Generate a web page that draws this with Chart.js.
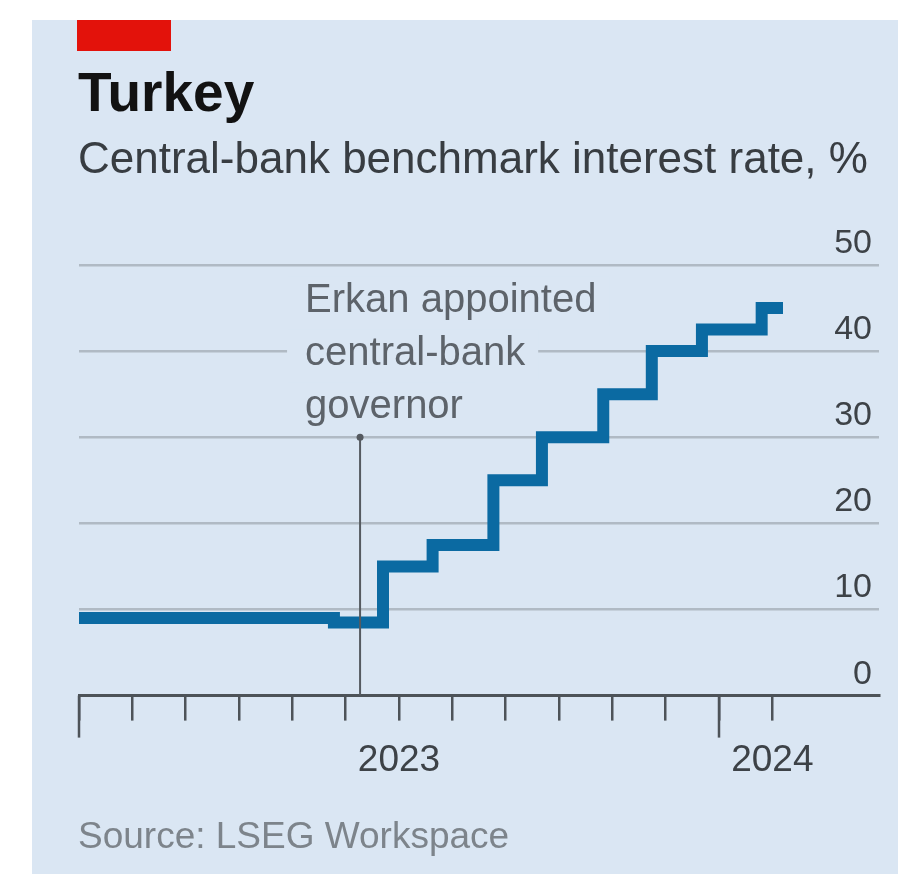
<!DOCTYPE html>
<html>
<head>
<meta charset="utf-8">
<title>Turkey - Central-bank benchmark interest rate</title>
<script src="https://cdn.jsdelivr.net/npm/chart.js@4.4.1/dist/chart.umd.min.js"></script>
<style>
    html, body { margin: 0; padding: 0; background: #ffffff; }
    canvas { display: block; }
</style>
</head>
<body>
<canvas id="rateChart" width="898" height="874"></canvas>
<script>
// months counted from January 2023 (0 = Jan 2023, 12 = Jan 2024)
const stepMonths = [0, 4.78, 5.7, 6.63, 7.77, 8.68, 9.83, 10.74, 11.68, 12.8, 13.2];
const rates = [9, 8.5, 15, 17.5, 25, 30, 35, 40, 42.5, 45, 45];

const tickMonths = [0, 1, 2, 3, 4, 5, 6, 7, 8, 9, 10, 11, 12, 13];
const yearStartMonths = [0, 12];
const yearLabelMonths = [6, 13];
const yearLabels = ['2023', '2024'];
const yTicks = [0, 10, 20, 30, 40, 50];

// Erkan's appointment (early June 2023)
const erkanMonth = 5.27;
const erkanLevel = 30;
const erkanText = ['Erkan appointed', 'central-bank', 'governor'];

const FONT = "'Liberation Sans', Arial, sans-serif";
const BG = '#dae6f3';
const AXIS = '#4d5358';

document.addEventListener('DOMContentLoaded', function() {
    const canvas = document.getElementById('rateChart');

    // panel background, red tag, title, subtitle and source line
    const frame = {
        id: 'frame',
        beforeDraw(chart) {
            const ctx = chart.ctx;
            ctx.save();
            ctx.fillStyle = '#ffffff';
            ctx.fillRect(0, 0, chart.width, chart.height);
            ctx.fillStyle = BG;
            ctx.fillRect(32, 20, chart.width - 32, chart.height - 20);
            ctx.fillStyle = '#e3120b';
            ctx.fillRect(77, 20, 94, 31);
            ctx.restore();
        },
        afterDraw(chart) {
            const ctx = chart.ctx;
            ctx.save();
            ctx.textAlign = 'left';
            ctx.textBaseline = 'alphabetic';
            ctx.fillStyle = '#121212';
            ctx.font = 'bold 55px ' + FONT;
            ctx.fillText('Turkey', 78, 111);
            ctx.fillStyle = '#383d42';
            ctx.font = '44px ' + FONT;
            ctx.fillText('Central-bank benchmark interest rate, %', 78, 173);
            ctx.fillStyle = '#7d848b';
            ctx.font = '37px ' + FONT;
            ctx.fillText('Source: LSEG Workspace', 78, 848);
            ctx.restore();
        }
    };

    // y labels sit just above their gridlines, right-aligned inside the plot
    const yLabels = {
        id: 'yLabels',
        afterDraw(chart) {
            const ctx = chart.ctx;
            const ys = chart.scales.y;
            ctx.save();
            ctx.font = '34px ' + FONT;
            ctx.fillStyle = '#3d4247';
            ctx.textAlign = 'right';
            ctx.textBaseline = 'alphabetic';
            ys.ticks.forEach(t => {
                ctx.fillText(String(t.value), chart.chartArea.right - 7, ys.getPixelForValue(t.value) - 12);
            });
            ctx.restore();
        }
    };

    // note text sits on a background patch so the gridline stops around it
    const annotation = {
        id: 'annotation',
        beforeDatasetsDraw(chart) {
            const ctx = chart.ctx;
            const x = chart.scales.x.getPixelForValue(erkanMonth);
            const y = chart.scales.y.getPixelForValue(erkanLevel);
            ctx.save();
            ctx.font = '40px ' + FONT;
            ctx.textAlign = 'left';
            ctx.textBaseline = 'alphabetic';
            erkanText.forEach((line, i) => {
                const baseY = y - 125 + i * 53;
                const w = ctx.measureText(line).width;
                ctx.fillStyle = BG;
                ctx.fillRect(x - 73, baseY - 36, w + 31, 50);
            });
            ctx.fillStyle = '#5d636a';
            erkanText.forEach((line, i) => {
                ctx.fillText(line, x - 55, y - 125 + i * 53);
            });
            ctx.restore();
        },
        afterDatasetsDraw(chart) {
            const ctx = chart.ctx;
            const xs = chart.scales.x;
            const ys = chart.scales.y;
            const x = xs.getPixelForValue(erkanMonth);
            const top = ys.getPixelForValue(erkanLevel);
            const bottom = ys.getPixelForValue(0);
            ctx.save();
            ctx.strokeStyle = '#555a60';
            ctx.lineWidth = 2;
            ctx.beginPath();
            ctx.moveTo(x, top);
            ctx.lineTo(x, bottom);
            ctx.stroke();
            ctx.fillStyle = '#555a60';
            ctx.beginPath();
            ctx.arc(x, top, 3.5, 0, Math.PI * 2);
            ctx.fill();

            // longer marks at the start of each year
            ctx.strokeStyle = AXIS;
            ctx.lineWidth = 2.5;
            yearStartMonths.forEach(m => {
                const tx = xs.getPixelForValue(m);
                ctx.beginPath();
                ctx.moveTo(tx, bottom);
                ctx.lineTo(tx, bottom + 42);
                ctx.stroke();
            });
            ctx.restore();
        }
    };

    new Chart(canvas, {
        type: 'line',
        data: {
            datasets: [{
                label: 'Benchmark rate',
                data: stepMonths.map((m, i) => ({ x: m, y: rates[i] })),
                borderColor: '#0b6aa2',
                borderWidth: 12,
                stepped: true,
                pointRadius: 0,
                borderCapStyle: 'butt',
                borderJoinStyle: 'miter',
                fill: false
            }]
        },
        options: {
            responsive: false,
            animation: false,
            layout: {
                padding: { left: 79, right: 19, top: 265, bottom: 73 }
            },
            plugins: {
                legend: { display: false },
                tooltip: { enabled: false }
            },
            scales: {
                x: {
                    type: 'linear',
                    min: 0,
                    max: 15,
                    afterBuildTicks: scale => {
                        scale.ticks = tickMonths.map(v => ({ value: v }));
                    },
                    grid: {
                        drawOnChartArea: false,
                        drawTicks: true,
                        tickLength: 25,
                        tickWidth: 2.5,
                        tickColor: AXIS,
                        lineWidth: 2.5,
                        color: AXIS
                    },
                    border: { display: true, color: AXIS, width: 3 },
                    ticks: {
                        autoSkip: false,
                        maxRotation: 0,
                        padding: 18,
                        color: '#3d4247',
                        font: { family: FONT, size: 37 },
                        callback: function(value) {
                            const k = yearLabelMonths.indexOf(value);
                            return k >= 0 ? yearLabels[k] : '';
                        }
                    }
                },
                y: {
                    position: 'right',
                    min: 0,
                    max: 50,
                    afterBuildTicks: scale => {
                        scale.ticks = yTicks.map(v => ({ value: v }));
                    },
                    grid: {
                        drawTicks: false,
                        lineWidth: 2.5,
                        color: ctx => ctx.tick && ctx.tick.value === 0 ? 'rgba(0,0,0,0)' : '#b0bac4'
                    },
                    border: { display: false },
                    ticks: { display: false }
                }
            }
        },
        plugins: [frame, yLabels, annotation]
    });
});
</script>
</body>
</html>
